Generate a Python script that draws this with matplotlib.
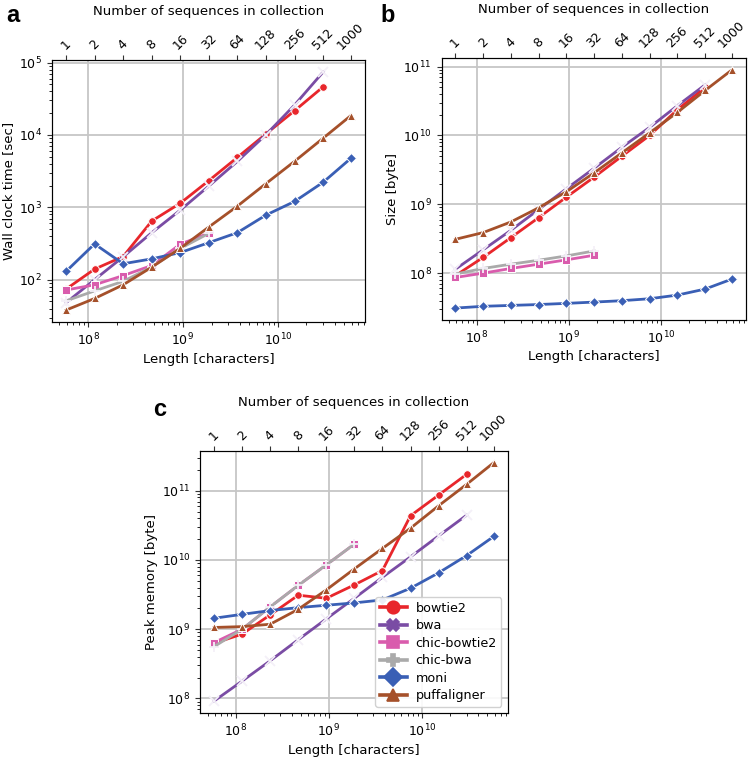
import matplotlib
matplotlib.use("Agg")
import matplotlib.pyplot as plt
from matplotlib.ticker import NullLocator
from matplotlib.lines import Line2D

# number of sequences in each collection and the total length (characters)
n_seqs = [1, 2, 4, 8, 16, 32, 64, 128, 256, 512, 1000]
length = [5.86e7, 1.172e8, 2.345e8, 4.69e8, 9.38e8, 1.876e9, 3.751e9,
          7.503e9, 1.5006e10, 3.0012e10, 5.8617e10]
tools = ["bowtie2", "bwa", "chic-bowtie2", "chic-bwa", "moni", "puffaligner"]

# a: wall clock time [sec]
time_bowtie2 = [74, 140, 209, 646, 1140, 2340, 4900, 10350, 21600, 46200]
time_bwa = [48, 100, 207, 446, 915, 1970, 4320, 10100, 25900, 74100]
time_chic_bowtie2 = [72, 85, 114, 157, 310, 440]
time_chic_bwa = [51, 70, 95, 150, 270, 437]
time_moni = [130, 312, 166, 194, 237, 325, 447, 782, 1205, 2220, 4740]
time_puff = [38, 55, 85, 149, 272, 535, 1040, 2130, 4320, 9020, 18450]

# b: index size [byte]
size_bowtie2 = [9.2e7, 1.69e8, 3.28e8, 6.4e8, 1.27e9, 2.48e9, 4.99e9, 1.0e10, 2.36e10, 5.0e10]
size_bwa = [1.14e8, 2.18e8, 4.19e8, 8.4e8, 1.68e9, 3.34e9, 6.73e9, 1.31e10, 2.7e10, 5.43e10]
size_chic_bowtie2 = [8.65e7, 1.0e8, 1.17e8, 1.35e8, 1.56e8, 1.82e8]
size_chic_bwa = [9.7e7, 1.17e8, 1.35e8, 1.54e8, 1.78e8, 2.1e8]
size_moni = [3.11e7, 3.3e7, 3.4e7, 3.5e7, 3.64e7, 3.8e7, 3.98e7, 4.25e7, 4.8e7, 5.87e7, 8.2e7]
size_puff = [3.1e8, 3.88e8, 5.54e8, 8.9e8, 1.52e9, 2.86e9, 5.58e9, 1.09e10, 2.16e10, 4.5e10, 8.95e10]

# c: peak memory [byte]
mem_bowtie2 = [6.25e8, 8.5e8, 1.61e9, 3.1e9, 2.8e9, 4.37e9, 7.05e9, 4.36e10, 8.67e10, 1.73e11]
mem_bwa = [9.15e7, 1.78e8, 3.5e8, 7.06e8, 1.41e9, 2.8e9, 5.63e9, 1.11e10, 2.23e10, 4.45e10]
mem_chic_bowtie2 = [6.4e8, 1.0e9, 2.1e9, 4.3e9, 8.5e9, 1.7e10]
mem_chic_bwa = [5.6e8, 1.0e9, 2.1e9, 4.3e9, 8.5e9, 1.7e10]
mem_moni = [1.44e9, 1.64e9, 1.86e9, 2.05e9, 2.22e9, 2.4e9, 2.65e9, 3.91e9, 6.52e9, 1.16e10, 2.19e10]
mem_puff = [1.06e9, 1.09e9, 1.18e9, 1.94e9, 3.7e9, 7.45e9, 1.47e10, 2.88e10, 6.07e10, 1.24e11, 2.55e11]

colors = ["#e8262b", "#7a4ca4", "#d95cad", "#aaaaaa", "#3a5fb5", "#a5502a"]
markers = ["o", "x", "s", "+", "D", "^"]        # in the plot
leg_markers = ["o", "X", "s", "P", "D", "^"]    # in the legend

panels = [
    ("a", "Wall clock time [sec]", [time_bowtie2, time_bwa, time_chic_bowtie2, time_chic_bwa, time_moni, time_puff],
     [0.069, 0.5746, 0.4177, 0.3461], (13, 15)),
    ("b", "Size [byte]", [size_bowtie2, size_bwa, size_chic_bowtie2, size_chic_bwa, size_moni, size_puff],
     [0.5887, 0.5773, 0.4056, 0.3461], (388, 16)),
    ("c", "Peak memory [byte]", [mem_bowtie2, mem_bwa, mem_chic_bowtie2, mem_chic_bwa, mem_moni, mem_puff],
     [0.2667, 0.0581, 0.4103, 0.3465], (160, 409)),
]

plt.rcParams["font.family"] = "DejaVu Sans"
W, H = 750, 757
fig = plt.figure(figsize=(W / 100, H / 100), dpi=100)
GRID = "#c6c6c6"
EDGE = "#333333"

for letter, ylab, series, rect, (lx, ly) in panels:
    ax = fig.add_axes(rect)
    ax.set_xscale("log"); ax.set_yscale("log")
    for name, vals, c, m in zip(tools, series, colors, markers):
        unfilled = m in ("x", "+")
        ax.plot(length[:len(vals)], vals, color=c, marker=m, lw=2, ms=6.5 if unfilled else 5.5,
                mec="#f4f0f8" if unfilled else "white", mew=1.3 if unfilled else 0.7, label=name)
    ax.grid(True, which="major", color=GRID, lw=1.3)
    ax.set_axisbelow(True)
    ax.set_xlabel("Length [characters]", fontsize=9.5, labelpad=3)
    ax.set_ylabel(ylab, fontsize=9.5, labelpad=3)
    ax.tick_params(labelsize=9, color=EDGE)
    for s in ax.spines.values():
        s.set_color(EDGE)
    top = ax.twiny()
    top.set_xscale("log")
    top.set_xlim(ax.get_xlim())
    top.set_xticks(length)
    top.set_xticklabels([str(n) for n in n_seqs], rotation=45, fontsize=9)
    top.xaxis.set_minor_locator(NullLocator())
    top.tick_params(color=EDGE, pad=2)
    top.set_xlabel("Number of sequences in collection", fontsize=9.5, labelpad=4)
    fig.text(lx / W, 1 - ly / H, letter, fontsize=17, fontweight="bold",
             family="Liberation Sans", ha="center", va="center")
    if letter == "c":
        handles = [Line2D([], [], color=c, marker=m, lw=2.6, ms=9, mec=c, mew=1.2)
                   for c, m in zip(colors, leg_markers)]
        ax.legend(handles, tools, loc="lower right", fontsize=9.2,
                  handlelength=2.1, framealpha=0.9, borderpad=0.35,
                  labelspacing=0.35, handletextpad=0.7)

fig.savefig("out.png", dpi=100)
